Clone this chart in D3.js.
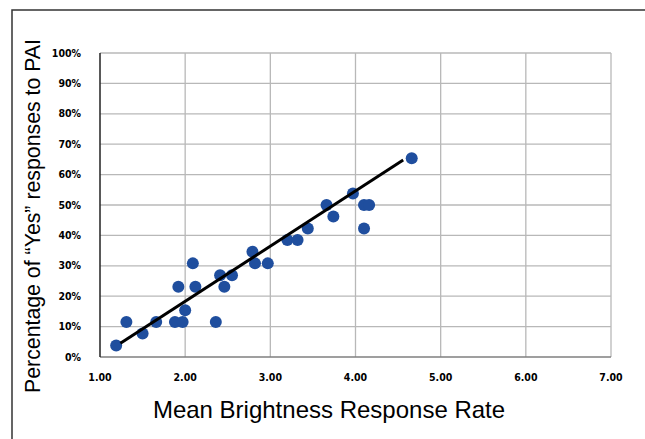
<!DOCTYPE html>
<html>
<head>
<meta charset="utf-8">
<script src="https://cdn.jsdelivr.net/npm/d3@7"></script>
<style>
  body { margin: 0; background: #fff; }
  svg { display: block; }
</style>
</head>
<body>
<div id="chart"></div>
<script>
// brightness response rate (x) vs % "Yes" responses to PAI (y)
const xVals = [1.19, 1.31, 1.50, 1.66, 1.88, 1.97, 2.00, 1.92, 2.12, 2.09, 2.36, 2.41, 2.46, 2.55,
  2.79, 2.82, 2.97, 3.20, 3.32, 3.44, 3.66, 3.74, 3.97, 4.10, 4.16, 4.10, 4.66];
const yVals = [3.8, 11.5, 7.7, 11.5, 11.5, 11.5, 15.4, 23.1, 23.1, 30.8, 11.5, 26.9, 23.1, 26.9,
  34.6, 30.8, 30.8, 38.5, 38.5, 42.3, 50.0, 46.2, 53.8, 50.0, 50.0, 42.3, 65.4];
// fitted trend line, ends
const trendX = [1.24, 4.56];
const trendY = [4.5, 64.8];
const xTicks = [1, 2, 3, 4, 5, 6, 7];
const yTicks = [0, 10, 20, 30, 40, 50, 60, 70, 80, 90, 100];

const W = 645, H = 439;
const plot = { left: 100, right: 611, top: 53, bottom: 357 };

const svg = d3.select("#chart").append("svg")
    .attr("width", W)
    .attr("height", H);

// outer frame (right/bottom edges are off the picture)
svg.append("rect")
    .attr("x", 12).attr("y", 10)
    .attr("width", W + 10).attr("height", H + 10)
    .attr("fill", "none")
    .attr("stroke", "#333")
    .attr("stroke-width", 1.5);

const x = d3.scaleLinear().domain([1, 7]).range([plot.left, plot.right]);
const y = d3.scaleLinear().domain([0, 100]).range([plot.bottom, plot.top]);

// grid
svg.append("g")
    .selectAll("line")
    .data(yTicks.slice(1))
    .enter().append("line")
    .attr("x1", plot.left).attr("x2", plot.right)
    .attr("y1", d => y(d)).attr("y2", d => y(d))
    .attr("stroke", "#b8b8b8")
    .attr("stroke-width", 1.3);

svg.append("g")
    .selectAll("line")
    .data(xTicks.slice(1))
    .enter().append("line")
    .attr("x1", d => x(d)).attr("x2", d => x(d))
    .attr("y1", plot.top).attr("y2", plot.bottom)
    .attr("stroke", "#b8b8b8")
    .attr("stroke-width", 1.3);

// axes lines
svg.append("line")
    .attr("x1", plot.left).attr("x2", plot.right)
    .attr("y1", plot.bottom).attr("y2", plot.bottom)
    .attr("stroke", "#7f7f7f").attr("stroke-width", 1.5);
svg.append("line")
    .attr("x1", plot.left).attr("x2", plot.left)
    .attr("y1", plot.top).attr("y2", plot.bottom)
    .attr("stroke", "#222").attr("stroke-width", 1.5);

// tick labels
svg.append("g")
    .selectAll("text")
    .data(xTicks)
    .enter().append("text")
    .attr("x", d => x(d))
    .attr("y", plot.bottom + 24)
    .attr("text-anchor", "middle")
    .style("font-family", "DejaVu Sans Condensed, DejaVu Sans")
    .style("font-weight", "bold")
    .style("font-size", "10.5px")
    .text(d => d.toFixed(2));

svg.append("g")
    .selectAll("text")
    .data(yTicks)
    .enter().append("text")
    .attr("x", plot.left - 19)
    .attr("y", d => y(d))
    .attr("dy", "0.35em")
    .attr("text-anchor", "end")
    .style("font-family", "DejaVu Sans Condensed, DejaVu Sans")
    .style("font-weight", "bold")
    .style("font-size", "10.5px")
    .text(d => d + "%");

// dots
svg.append("g")
    .selectAll("circle")
    .data(xVals.map((v, i) => ({ x: v, y: yVals[i] })))
    .enter().append("circle")
    .attr("cx", d => x(d.x))
    .attr("cy", d => y(d.y))
    .attr("r", 6)
    .attr("fill", "#1f4e9e");

svg.append("line")
    .attr("x1", x(trendX[0])).attr("y1", y(trendY[0]))
    .attr("x2", x(trendX[1])).attr("y2", y(trendY[1]))
    .attr("stroke", "#000")
    .attr("stroke-width", 3);

// axis titles
svg.append("text")
    .attr("x", 329)
    .attr("y", 418)
    .attr("text-anchor", "middle")
    .style("font-family", "Liberation Sans, Arial")
    .style("font-size", "24px")
    .text("Mean Brightness Response Rate");

svg.append("text")
    .attr("transform", "translate(40,216)rotate(-90)")
    .attr("text-anchor", "middle")
    .style("font-family", "Liberation Sans, Arial")
    .style("font-size", "21.3px")
    .text("Percentage of \u201cYes\u201d responses to PAI");
</script>
</body>
</html>
